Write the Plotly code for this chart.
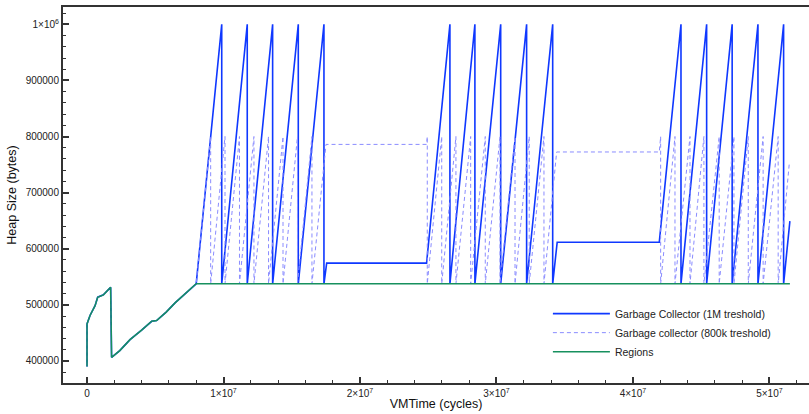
import plotly.graph_objects as go

# ---- data (times in units of 1e6 cycles, heap in bytes) ----
startup_t = [0.0, 0.0, 0.22, 0.59, 0.78, 1.2, 1.73, 1.8, 2.4, 3.15, 4.0, 4.74, 5.1, 5.8, 6.45, 7.2, 8.0]
startup_v = [390000, 466000, 481000, 498600, 513600, 517800, 531400, 406400, 418400, 438000,
             455000, 470700, 472000, 487000, 503500, 520000, 537500]

base_heap = 537500

# Garbage Collector (1M threshold)
gc1m_top = 1000000
gc1m_peaks_1 = [9.87, 11.74, 13.60, 15.48, 17.36]
gc1m_idle_1 = (17.56, 24.88, 574300)
gc1m_peaks_2 = [26.59, 28.42, 30.31, 32.21, 34.12]
gc1m_idle_2 = (34.45, 41.93, 611700)
gc1m_peaks_3 = [43.52, 45.40, 47.27, 49.16, 51.04]
gc1m_end = (51.50, 649300)

# Garbage collector (800k threshold)
gc800_top = 800000
gc800_peaks_1 = [9.06, 10.11, 11.17, 12.23, 13.30, 14.36, 15.42, 16.48]
gc800_idle_1 = (17.51, 24.88, 786000)
gc800_peaks_2 = [24.93, 25.99, 27.03, 28.11, 29.18, 30.26, 31.36, 32.40, 33.48]
gc800_idle_2 = (34.41, 41.93, 772500)
gc800_peaks_3 = [42.03, 43.08, 44.18, 45.20, 46.32, 47.40, 48.45, 49.54, 50.64]
gc800_end = (51.45, 750500)

# Regions
regions_end_t = 51.50

x_tickvals = [0, 1e7, 2e7, 3e7, 4e7, 5e7]
x_ticktext = ["0", "1×10<sup>7</sup>", "2×10<sup>7</sup>", "3×10<sup>7</sup>",
              "4×10<sup>7</sup>", "5×10<sup>7</sup>"]
y_tickvals = [400000, 500000, 600000, 700000, 800000, 900000, 1000000]
y_ticktext = ["400000", "500000", "600000", "700000", "800000", "900000", "1×10<sup>6</sup>"]


def build(parts, top, base):
    t = list(startup_t)
    v = list(startup_v)
    for kind, val in parts:
        if kind == "peaks":
            for p in val:
                t += [p, p]
                v += [top, base]
        elif kind == "idle":
            t += [val[0], val[1]]
            v += [val[2], val[2]]
        elif kind == "end":
            t.append(val[0])
            v.append(val[1])
    return [x * 1e6 for x in t], v


gc1m_t, gc1m_v = build([("peaks", gc1m_peaks_1), ("idle", gc1m_idle_1),
                        ("peaks", gc1m_peaks_2), ("idle", gc1m_idle_2),
                        ("peaks", gc1m_peaks_3), ("end", gc1m_end)], gc1m_top, base_heap)
gc800_t, gc800_v = build([("peaks", gc800_peaks_1), ("idle", gc800_idle_1),
                          ("peaks", gc800_peaks_2), ("idle", gc800_idle_2),
                          ("peaks", gc800_peaks_3), ("end", gc800_end)], gc800_top, base_heap)
reg_t = [x * 1e6 for x in startup_t] + [regions_end_t * 1e6]
reg_v = list(startup_v) + [base_heap]

FONT = "Liberation Sans, Arial, Helvetica, sans-serif"

fig = go.Figure()
fig.add_trace(go.Scatter(x=gc1m_t, y=gc1m_v, mode="lines", name="Garbage Collector (1M treshold)",
                         line=dict(color="#0f38ff", width=1.6)))
fig.add_trace(go.Scatter(x=gc800_t, y=gc800_v, mode="lines", name="Garbage collector (800k treshold)",
                         line=dict(color="#8a8cff", width=1, dash="4px,3px")))
fig.add_trace(go.Scatter(x=reg_t, y=reg_v, mode="lines", name="Regions",
                         line=dict(color="#17905e", width=1.5)))

axis_common = dict(showgrid=False, zeroline=False, showline=True, linecolor="#333333", linewidth=2,
                   ticks="inside", tickcolor="#333333", tickwidth=1.5, ticklen=6, automargin=False,
                   tickfont=dict(family=FONT, size=10, color="#222222"))

fig.update_layout(
    width=809, height=414,
    margin=dict(l=63, r=0, t=7, b=31),
    paper_bgcolor="white", plot_bgcolor="white",
    font=dict(family=FONT, size=10, color="#222222"),
    xaxis=dict(range=[-1.76e6, 52.9e6], tickmode="array", tickvals=x_tickvals, ticktext=x_ticktext,
               mirror=True,
               minor=dict(tickmode="linear", tick0=0, dtick=2e6, ticks="inside", ticklen=3,
                          tickcolor="#333333", tickwidth=1.2),
               title=dict(text="VMTime (cycles)", font=dict(family=FONT, size=12.5, color="#111111"),
                          standoff=1),
               **axis_common),
    yaxis=dict(range=[360700, 1030900], tickmode="array", tickvals=y_tickvals, ticktext=y_ticktext,
               minor=dict(tickmode="linear", tick0=0, dtick=20000, ticks="inside", ticklen=3,
                          tickcolor="#333333", tickwidth=1.2),
               title=dict(text="Heap Size (bytes)", font=dict(family=FONT, size=12.5, color="#111111"),
                          standoff=6),
               **axis_common),
    legend=dict(x=0.65, y=0.223, xanchor="left", yanchor="top", bgcolor="rgba(0,0,0,0)",
                font=dict(family=FONT, size=10.5, color="#222222"), itemwidth=57),
    showlegend=True,
)

fig.write_html("out.html", config={"displayModeBar": False},
               post_script="document.body.style.margin='0';")
